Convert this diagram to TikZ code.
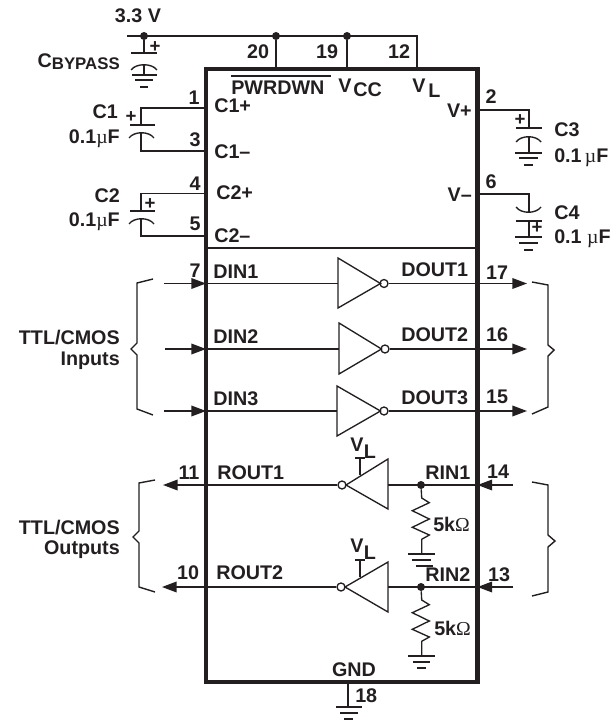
\documentclass[tikz,border=0pt]{standalone}
\usepackage{fontspec}
\setmainfont{Liberation Sans}
\newfontfamily\mufont{Liberation Serif}
\usetikzlibrary{arrows.meta}
\definecolor{ink}{HTML}{231F20}
\newcommand{\mymu}{{\mufont\fontseries{m}\selectfont µ}}
\newcommand{\myohm}{{\mufont\fontseries{m}\selectfont Ω}}
\tikzset{
  wire/.style={line width=1.05pt,draw=ink},
  thin wire/.style={line width=1pt,draw=ink},
  chip/.style={line width=3.4pt,draw=ink,line join=miter},
  arr/.style={wire,-{Triangle[length=11pt,width=8pt]}},
  lab/.style={inner sep=0pt,font=\fontsize{14.8}{16}\selectfont\bfseries,text=ink,text height=10.6pt,text depth=0pt},
  labw/.style={lab,anchor=west},
  labe/.style={lab,anchor=east},
  plus/.style={inner sep=0pt,font=\fontsize{14}{14}\selectfont\bfseries,text=ink},
  junction/.style={circle,fill=ink,inner sep=0pt,minimum size=6pt},
  bubble/.style={circle,draw=ink,line width=1pt,fill=white,inner sep=0pt,minimum size=6pt},
  gate/.style={thin wire,line join=miter},
}
\begin{document}
\begin{tikzpicture}[x=0.75pt,y=-0.75pt]
\useasboundingbox (0,0) rectangle (614,723);
% chip
\draw[chip] (206,69) rectangle (477.5,682);
\coordinate (divL) at (206,248); \coordinate (divR) at (477.5,248);
\draw[wire] (divL) -- (divR);
% top rail
\coordinate (railL) at (127,36); \coordinate (railR) at (417,36); \coordinate (vlPin) at (417,68);
\node[junction] (j1) at (144,36) {};
\node[junction] (j2) at (276,36) {};
\node[junction] (j3) at (347,36) {};
\coordinate (pwrPin) at (276,68); \coordinate (vccPin) at (347,68);
\draw[wire] (railL) -- (railR) -- (vlPin);
\draw[wire] (j2) -- (pwrPin);
\draw[wire] (j3) -- (vccPin);
\node[lab] (t33) at (138,15) {3.3 V};
\node[labe] (tbyp) at (120,60) {C\raisebox{-2pt}{\fontsize{12.6}{13}\selectfont\bfseries BYPASS}};
\node[plus] (pb) at (155,47) {+};
% bypass cap
\coordinate (bp1) at (144,53); \coordinate (bp2) at (144,64.5); \coordinate (bg) at (144,75);
\draw[wire] (j1) -- (bp1);
\draw[wire] (bp2) -- (bg);
\draw[wire] (131,53) -- (157,53);
\draw[wire] (131,70) .. controls (136,63) and (152,63) .. (157,70);
\draw[wire] (132,75) -- (157,75);
\draw[wire] (135,80) -- (153,80);
\draw[wire] (140,87) -- (148,87);
% C1
\coordinate (p1) at (206,108); \coordinate (c1a) at (141,108); \coordinate (c1b) at (141,125);
\coordinate (p3) at (206,151); \coordinate (c1d) at (141,151); \coordinate (c1c) at (141,132.5);
\draw[wire] (p1) -- (c1a) -- (c1b);
\draw[wire] (p3) -- (c1d) -- (c1c);
\draw[wire] (130,125) -- (155,125);
\draw[wire] (129,138) .. controls (134,131) and (149,131) .. (154,138);
\node[plus] (pc1) at (131,117) {+};
% C2
\coordinate (p4) at (206,193.5); \coordinate (c2a) at (141,193.5); \coordinate (c2b) at (141,211);
\coordinate (p5) at (206,236); \coordinate (c2d) at (141,236); \coordinate (c2c) at (141,218.5);
\draw[wire] (p4) -- (c2a) -- (c2b);
\draw[wire] (p5) -- (c2d) -- (c2c);
\draw[wire] (130,211) -- (155,211);
\draw[wire] (129,224) .. controls (134,217) and (149,217) .. (154,224);
\node[plus] (pc2) at (150,204) {+};
% C3
\coordinate (p2) at (477.5,110); \coordinate (c3a) at (529,110); \coordinate (c3b) at (529,128);
\coordinate (c3c) at (529,137); \coordinate (c3d) at (529,153);
\draw[wire] (p2) -- (c3a) -- (c3b);
\draw[wire] (c3c) -- (c3d);
\draw[wire] (516,128) -- (542,128);
\draw[wire] (516,142) .. controls (521,135) and (536,135) .. (541,142);
\draw[wire] (515,153) -- (542,153);
\draw[wire] (519,158) -- (538,158);
\draw[wire] (524,165) -- (533,165);
\node[plus] (pc3) at (520,120) {+};
% C4
\coordinate (p6) at (477.5,194); \coordinate (c4a) at (529,194); \coordinate (c4b) at (529,212);
\coordinate (c4c) at (529,221); \coordinate (c4d) at (529,237);
\draw[wire] (p6) -- (c4a) -- (c4b);
\draw[wire] (c4c) -- (c4d);
\draw[wire] (516,207) .. controls (521,214) and (536,214) .. (541,207);
\draw[wire] (516,221) -- (542,221);
\draw[wire] (515,237) -- (542,237);
\draw[wire] (519,243) -- (538,243);
\draw[wire] (524,250) -- (533,250);
\node[plus] (pc4) at (537,228) {+};
% cap labels
\node[labe] (tc1) at (118,111) {C1};
\node[labe] (tc1v) at (120,136) {0.1\mymu F};
\node[labe] (tc2) at (120,195) {C2};
\node[labe] (tc2v) at (120,219) {0.1\mymu F};
\node[labw] (tc3) at (554,129) {C3};
\node[labw] (tc3v) at (554,155) {0.1\,\mymu F};
\node[labw] (tc4) at (554,212) {C4};
\node[labw] (tc4v) at (554,236) {0.1 \mymu F};
% pin numbers top
\node[lab] (n1) at (194,97) {1};
\node[lab] (n3) at (195,139) {3};
\node[lab] (n4) at (195,183) {4};
\node[lab] (n5) at (195,223) {5};
\node[lab] (n20) at (258,51) {20};
\node[lab] (n19) at (327,51) {19};
\node[lab] (n12) at (399,51) {12};
\node[lab] (n2) at (491,96) {2};
\node[lab] (n6) at (491,181) {6};
% chip labels top
\node[labw] (tc1p) at (214,105) {C1+};
\node[labw] (tc1m) at (214,151) {C1–};
\node[labw] (tc2p) at (216,192) {C2+};
\node[labw] (tc2m) at (214,235) {C2–};
\node[labw] (tpwr) at (231,87) {PWRDWN};
\coordinate (ovL) at (231,76); \coordinate (ovR) at (331,76);
\draw[wire] (ovL) -- (ovR);
\node[labw] (tvcc) at (338,85) {V};
\node[labw] (tcc) at (353,89) {CC};
\node[labw] (tvl) at (412,85) {V};
\node[labw] (tl) at (428,90) {L};
\node[labe] (tvp) at (472,110) {V+};
\node[labe] (tvm) at (472,194) {V–};
% driver channels
\coordinate (d1s) at (164,283.5); \coordinate (d1t) at (206,283.5);
\coordinate (d1g) at (338,283.5); \coordinate (d1e) at (527,283.5);
\draw[arr] (d1s) -- (d1t);
\draw[wire] (d1t) -- (d1g);
\node[bubble] (b1) at (384,283.5) {};
\draw[gate] (338,258) -- (380.5,283.5) -- (338,308) -- cycle;
\draw[arr] (b1) -- (d1e);
\coordinate (d2s) at (165,349); \coordinate (d2t) at (206,349);
\coordinate (d2g) at (339,349); \coordinate (d2e) at (527,349);
\draw[arr] (d2s) -- (d2t);
\draw[wire] (d2t) -- (d2g);
\node[bubble] (b2) at (385,349) {};
\draw[gate] (339,323) -- (381.5,349) -- (339,374) -- cycle;
\draw[arr] (b2) -- (d2e);
\coordinate (d3s) at (164,411); \coordinate (d3t) at (206,411);
\coordinate (d3g) at (337,411); \coordinate (d3e) at (527,411);
\draw[arr] (d3s) -- (d3t);
\draw[wire] (d3t) -- (d3g);
\node[bubble] (b3) at (384,411) {};
\draw[gate] (337,386) -- (380.5,411) -- (337,436) -- cycle;
\draw[arr] (b3) -- (d3e);
\node[lab] (n7) at (195,270) {7};
\node[labw] (tdin1) at (213,271) {DIN1};
\node[labw] (tdin2) at (213,336) {DIN2};
\node[labw] (tdin3) at (213,398) {DIN3};
\node[labw] (tdo1) at (401,269) {DOUT1};
\node[labw] (tdo2) at (401,334) {DOUT2};
\node[labw] (tdo3) at (401,397) {DOUT3};
\node[lab] (n17) at (497,272) {17};
\node[lab] (n16) at (497,334) {16};
\node[lab] (n15) at (497,396) {15};
% braces
\draw[wire,line join=miter] (153,279) -- (137,283) -- (137,343) -- (131,349) -- (137,355) -- (137,409) -- (153,415);
\draw[wire,line join=miter] (532,282) -- (548,285) -- (548,345) -- (554,350) -- (548,356) -- (548,407) -- (532,414);
\draw[wire,line join=miter] (155,480) -- (139,483) -- (139,531) -- (133,537) -- (139,543) -- (139,587) -- (155,592);
\draw[wire,line join=miter] (532,482) -- (548,485) -- (548,535) -- (555,541) -- (548,547) -- (548,592) -- (532,596);
\node[labe] (tti) at (120,337) {TTL/CMOS};
\node[labe] (tin) at (120,358) {Inputs};
\node[labe] (tto) at (120,527) {TTL/CMOS};
\node[labe] (tou) at (120,547) {Outputs};
% receiver 1
\coordinate (r1s) at (513,485); \coordinate (r1t) at (477.5,485); \coordinate (r1g) at (388,485);
\coordinate (r1e) at (163,485);
\node[bubble] (rb1) at (342,485) {};
\node[junction] (rj1) at (421,485) {};
\draw[arr] (r1s) -- (r1t);
\draw[wire] (r1t) -- (r1g);
\draw[gate] (388,459) -- (346,485) -- (388,509) -- cycle;
\draw[arr] (rb1) -- (r1e);
\coordinate (vs1) at (360,475); \coordinate (vt1) at (360,458);
\draw[wire] (vs1) -- (vt1);
\draw[wire] (355,458) -- (365,458);
\coordinate (g1) at (421.7,554);
\draw[thin wire,line join=miter] (rj1) -- (421.7,498) -- (429.3,502.7) -- (412.3,510.7) -- (429.3,519) -- (412.3,527.3) -- (429.3,535) -- (421.7,539.3) -- (g1);
\draw[wire] (408,554) -- (435,554);
\draw[wire] (412,560) -- (431,560);
\draw[wire] (416,566) -- (433,566);
% receiver 2
\coordinate (r2s) at (513,587); \coordinate (r2t) at (477.5,587); \coordinate (r2g) at (388,587);
\coordinate (r2e) at (162,587);
\node[bubble] (rb2) at (341,587) {};
\node[junction] (rj2) at (421,587) {};
\draw[arr] (r2s) -- (r2t);
\draw[wire] (r2t) -- (r2g);
\draw[gate] (388,562) -- (345,587) -- (388,612) -- cycle;
\draw[arr] (rb2) -- (r2e);
\coordinate (vs2) at (360,577); \coordinate (vt2) at (360,560);
\draw[wire] (vs2) -- (vt2);
\draw[wire] (355,560) -- (365,560);
\coordinate (g2) at (421.7,656);
\draw[thin wire,line join=miter] (rj2) -- (421.7,600) -- (429.3,604.7) -- (412.3,612.7) -- (429.3,621) -- (412.3,629.3) -- (429.3,637) -- (421.7,641.3) -- (g2);
\draw[wire] (408,656) -- (435,656);
\draw[wire] (413,662) -- (430,662);
\draw[wire] (417,668) -- (426,668);
% receiver labels
\node[lab] (tvl1) at (357,444) {V};
\node[lab] (tvl1b) at (370,451) {L};
\node[lab] (tvl2) at (357,545) {V};
\node[lab] (tvl2b) at (370,552) {L};
\node[labw] (trin1) at (425,472) {RIN1};
\node[labw] (trin2) at (425,574) {RIN2};
\node[labw] (trout1) at (217,472) {ROUT1};
\node[labw] (trout2) at (216,572) {ROUT2};
\node[lab] (n14) at (498,471) {14};
\node[lab] (n13) at (499,574) {13};
\node[lab] (n11) at (189,472) {11};
\node[lab] (n10) at (188,572) {10};
\node[labw] (tr1) at (433,524) {5k\myohm};
\node[labw] (tr2) at (434,628) {5k\myohm};
% GND
\node[lab] (tgnd) at (354,669) {GND};
\coordinate (gp) at (348,682); \coordinate (gb) at (348,707);
\draw[wire] (gp) -- (gb);
\draw[wire] (336,707) -- (362,707);
\draw[wire] (340,713) -- (358,713);
\draw[wire] (344,719) -- (353,719);
\node[labw] (n18) at (355,695) {18};
\end{tikzpicture}
\end{document}
